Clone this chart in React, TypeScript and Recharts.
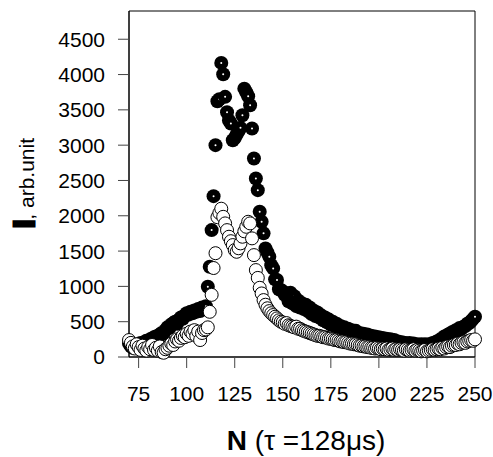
import { ScatterChart, Scatter, XAxis, YAxis, ReferenceArea } from "recharts";

// N = 70 .. 250, one point per channel
const N_FIRST = 70;

// filled (black) series
const filledValues = [
  190, 150, 130, 170, 140, 180, 200, 170, 210, 230,
  220, 250, 260, 280, 290, 270, 320, 340, 330, 380,
  420, 410, 460, 480, 500, 470, 530, 560, 540, 590,
  620, 600, 640, 620, 660, 640, 680, 650, 700, 690,
  720, 995, 1278, 1797, 2278, 3000, 3622, 3650, 4165, 4005,
  3684, 3467, 3350, 3307, 3070, 3100, 3150, 3200, 3245, 3424,
  3800, 3750, 3693, 3566, 3236, 2811, 2528, 2363, 2057, 1916,
  1751, 1538, 1480, 1419, 1300, 1255, 1100, 1090, 960, 948,
  930, 880, 900, 790, 910, 760, 860, 720, 800, 700,
  760, 680, 740, 650, 700, 610, 660, 580, 630, 560,
  590, 520, 560, 490, 530, 460, 500, 440, 470, 420,
  440, 400, 420, 370, 400, 350, 380, 340, 370, 320,
  340, 300, 330, 290, 320, 280, 300, 270, 290, 260,
  280, 250, 270, 240, 260, 230, 250, 220, 240, 210,
  220, 200, 210, 190, 200, 180, 200, 170, 190, 170,
  180, 160, 180, 150, 180, 160, 180, 170, 200, 190,
  220, 210, 250, 250, 290, 290, 320, 320, 350, 350,
  380, 370, 410, 400, 430, 440, 470, 480, 510, 540,
  570,
];

// open (white) series
const openValues = [
  240, 200, 150, 120, 180, 140, 100, 160, 120, 90,
  140, 110, 170, 100, 130, 90, 150, 70, 60, 110,
  130, 160, 190, 170, 220, 250, 230, 270, 300, 280,
  330, 300, 360, 330, 380, 300, 360, 240, 340, 380,
  390, 420, 640, 880, 1260, 1470, 1980, 2040, 2100, 1985,
  1892, 1797, 1703, 1640, 1585, 1514, 1490, 1540, 1609, 1703,
  1780, 1844, 1915, 1892, 1680, 1443, 1231, 1120, 980, 900,
  806, 740, 690, 650, 620, 594, 570, 547, 520, 500,
  490, 470, 480, 450, 440, 430, 420, 430, 400, 400,
  380, 370, 360, 350, 340, 330, 320, 310, 300, 300,
  290, 280, 280, 270, 260, 260, 250, 240, 240, 230,
  220, 220, 210, 210, 200, 190, 190, 180, 180, 170,
  160, 160, 150, 150, 140, 140, 130, 130, 120, 130,
  120, 110, 120, 110, 120, 100, 110, 120, 100, 110,
  100, 110, 100, 90, 110, 100, 90, 100, 110, 90,
  100, 90, 80, 90, 100, 80, 90, 100, 110, 100,
  110, 120, 110, 130, 120, 140, 150, 140, 160, 170,
  170, 190, 180, 200, 210, 200, 220, 230, 240, 230,
  250,
];

const xTicks = [75, 100, 125, 150, 175, 200, 225, 250];
const yTicks = [0, 500, 1000, 1500, 2000, 2500, 3000, 3500, 4000, 4500];

const filledData = filledValues.map((v, i) => ({ n: N_FIRST + i, v }));
const openData = openValues.map((v, i) => ({ n: N_FIRST + i, v }));

const FONT = "'Liberation Sans', Arial, sans-serif";

const FilledDot = (props: any) => (
  <g>
    <circle cx={props.cx} cy={props.cy} r={7} fill="#000" />
    <circle cx={props.cx} cy={props.cy} r={1} fill="#fff" />
  </g>
);

const OpenDot = (props: any) => (
  <circle cx={props.cx} cy={props.cy} r={6.5} fill="#fff" stroke="#000" strokeWidth={1} />
);

export default function App() {
  const tick = { fontSize: 21, fill: "#000", fontFamily: FONT };
  return (
    <div style={{ position: "absolute", left: 0, top: 0, width: 493, height: 457, background: "#fff" }}>
      <ScatterChart width={493} height={457} margin={{ top: 11, right: 18, bottom: 0, left: 0 }}>
        <XAxis
          type="number"
          dataKey="n"
          domain={[70, 250]}
          ticks={xTicks}
          height={100}
          tickSize={11}
          tickMargin={18}
          tick={tick}
          stroke="#000"
          tickLine={{ stroke: "#444" }}
        />
        <YAxis
          type="number"
          dataKey="v"
          domain={[0, 4900]}
          ticks={yTicks}
          width={129}
          tickSize={11}
          tickMargin={13}
          tick={tick}
          stroke="#000"
          tickLine={{ stroke: "#444" }}
        />
        <ReferenceArea x1={70} x2={250} y1={0} y2={4900} fill="none" stroke="#000" strokeWidth={1} />
        <Scatter data={filledData} shape={FilledDot} isAnimationActive={false} />
        <Scatter data={openData} shape={OpenDot} isAnimationActive={false} />
      </ScatterChart>
      <svg width={493} height={457} style={{ position: "absolute", left: 0, top: 0, pointerEvents: "none" }}>
        <text x={306} y={450} textAnchor="middle" fontSize={28} fontFamily={FONT} fill="#000">
          <tspan fontWeight="bold">N</tspan> (τ =128μs)
        </text>
        <text transform="translate(34,183) rotate(-90)" textAnchor="middle" fontFamily={FONT} fill="#000">
          <tspan fontWeight="bold" fontSize={30} stroke="#000" strokeWidth={3}>I</tspan>
          <tspan fontSize={21}>, arb.unit</tspan>
        </text>
      </svg>
    </div>
  );
}
